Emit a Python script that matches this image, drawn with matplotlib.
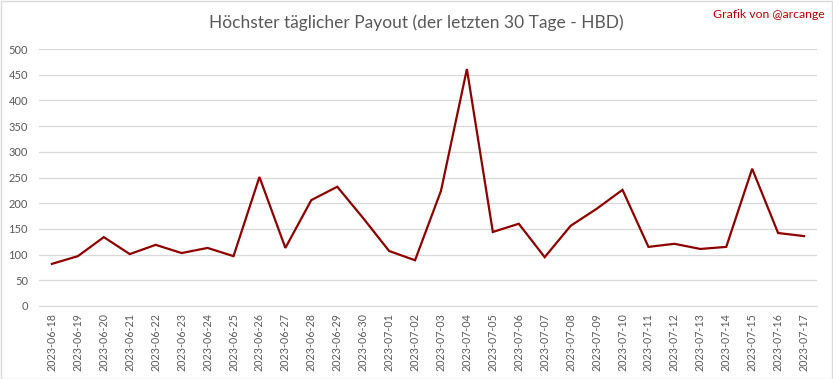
import matplotlib
matplotlib.use('Agg')
import matplotlib.pyplot as plt
from matplotlib.patches import Rectangle

dates = ['2023-06-18', '2023-06-19', '2023-06-20', '2023-06-21', '2023-06-22',
         '2023-06-23', '2023-06-24', '2023-06-25', '2023-06-26', '2023-06-27',
         '2023-06-28', '2023-06-29', '2023-06-30', '2023-07-01', '2023-07-02',
         '2023-07-03', '2023-07-04', '2023-07-05', '2023-07-06', '2023-07-07',
         '2023-07-08', '2023-07-09', '2023-07-10', '2023-07-11', '2023-07-12',
         '2023-07-13', '2023-07-14', '2023-07-15', '2023-07-16', '2023-07-17']
payout = [82, 97, 134, 101, 119, 103, 113, 97, 251, 113,
          206, 232, 171, 107, 89, 224, 461, 144, 160, 95,
          156, 189, 226, 115, 121, 111, 115, 267, 142, 136]
y_ticks = list(range(0, 501, 50))

plt.rcParams['font.family'] = ['Lato', 'DejaVu Sans']

fig = plt.figure(figsize=(8.33, 3.79), dpi=100)
ax = fig.add_axes([39 / 833, 1 - 306 / 379, 778 / 833, 257 / 379])

x = list(range(len(dates)))
ax.plot(x, payout, color='#8E0000', linewidth=1.6, solid_joinstyle='miter')

ax.set_xlim(-0.5, len(dates) - 0.5)
ax.set_ylim(0, 500)
ax.set_yticks(y_ticks)
ax.set_xticks(x)
ax.set_xticklabels(dates, rotation=90, fontsize=7.7, color='#595959')
ax.tick_params(axis='y', labelsize=8, colors='#595959', length=0, pad=8)
ax.tick_params(axis='x', length=0, pad=5)
ax.grid(axis='y', color='#D9D9D9', linewidth=0.9)
ax.set_axisbelow(True)
for s in ['top', 'right', 'left']:
    ax.spines[s].set_visible(False)
ax.spines['bottom'].set_color('#D9D9D9')

fig.text(0.5, 1 - 23 / 379, 'Höchster täglicher Payout (der letzten 30 Tage - HBD)',
         ha='center', va='center', fontsize=12.5, color='#595959')
fig.text(1 - 8 / 833, 1 - 15 / 379, 'Grafik von @arcange', ha='right', va='center',
         fontsize=8.8, color='#C00000')

fig.patches.append(Rectangle((0.5 / 833, 0.5 / 379), 1 - 1.5 / 833, 1 - 1.5 / 379,
                             transform=fig.transFigure, fill=False,
                             edgecolor='#D9D9D9', linewidth=1))

fig.savefig('out.png', dpi=100)
